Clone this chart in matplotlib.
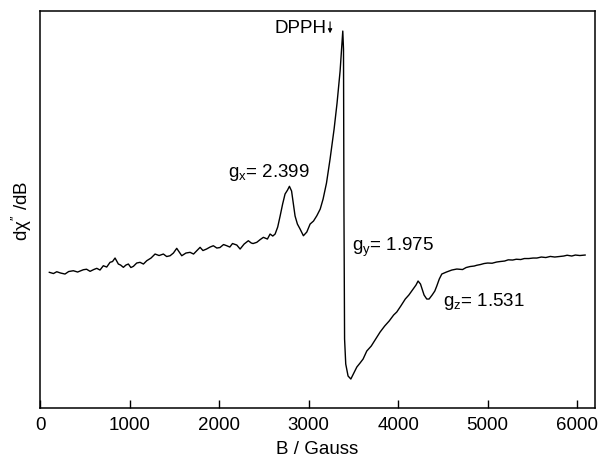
import matplotlib
matplotlib.use("Agg")
import matplotlib.pyplot as plt

plt.rcParams["font.family"] = ["Liberation Sans", "DejaVu Sans"]
plt.rcParams["mathtext.fontset"] = "custom"
plt.rcParams["mathtext.rm"] = "Liberation Sans"
plt.rcParams["mathtext.it"] = "Liberation Sans"

# EPR derivative spectrum (field in Gauss, signal in arbitrary units)
# rows of 10 in both lists line up
field_g = [
    104, 150, 187, 230, 279, 320, 372, 420, 484, 520,
    559, 600, 634, 670, 707, 745, 782, 810, 838, 875,
    900, 931, 960, 987, 1015, 1043, 1080, 1117, 1155, 1192,
    1240, 1285, 1330, 1378, 1415, 1453, 1490, 1527, 1583, 1630,
    1676, 1715, 1751, 1788, 1820, 1860, 1900, 1936, 1975, 2010,
    2050, 2086, 2120, 2150, 2198, 2235, 2280, 2327, 2360, 2380,
    2421, 2460, 2495, 2540, 2570, 2600, 2626, 2655, 2682, 2710,
    2737, 2765, 2786, 2810, 2830, 2849, 2875, 2905, 2942, 2980,
    3017, 3055, 3092, 3130, 3162, 3200, 3240, 3285, 3318, 3352,
    3382, 3390, 3395, 3402, 3415, 3441, 3472, 3505, 3539, 3575,
    3609, 3650, 3700, 3750, 3799, 3850, 3900, 3950, 3985, 4030,
    4080, 4120, 4168, 4200, 4223, 4250, 4290, 4320, 4346, 4380,
    4410, 4432, 4460, 4488, 4540, 4600, 4656, 4720, 4760, 4804,
    4850, 4880, 4920, 4960, 5000, 5050, 5100, 5140, 5190, 5230,
    5280, 5320, 5370, 5410, 5460, 5508, 5550, 5600, 5650, 5700,
    5750, 5800, 5850, 5888, 5940, 5980, 6030, 6089,
]
signal = [
    136.7, 135.5, 137.3, 136.0, 135.0, 137.5, 138.3, 137.0, 139.3, 139.8,
    137.7, 139.5, 140.7, 139.0, 143.3, 142.0, 146.7, 147.5, 151.0, 145.0,
    144.0, 141.7, 144.0, 145.0, 141.5, 142.7, 146.0, 146.7, 145.0, 148.3,
    151.0, 155.0, 153.5, 155.0, 152.5, 153.3, 156.0, 160.7, 153.3, 156.0,
    156.7, 155.0, 158.3, 161.7, 158.5, 160.0, 162.0, 163.3, 161.0, 161.5,
    164.5, 163.3, 162.0, 165.5, 164.0, 160.0, 165.0, 168.3, 166.0, 165.5,
    166.7, 169.5, 171.7, 170.0, 175.0, 173.0, 175.0, 182.0, 193.0, 205.0,
    215.0, 219.0, 222.7, 218.0, 205.0, 193.0, 185.0, 180.0, 173.3, 177.0,
    185.0, 188.0, 193.3, 200.0, 210.0, 226.0, 250.0, 280.0, 306.0, 338.0,
    378.0, 360.0, 200.0, 70.0, 45.0, 33.0, 30.0, 36.0, 42.0, 46.0,
    50.0, 58.0, 63.0, 70.0, 77.0, 83.0, 88.0, 94.0, 97.0, 103.0,
    110.0, 114.0, 120.0, 124.0, 128.0, 125.0, 114.0, 110.0, 110.0, 114.0,
    118.0, 123.0, 130.0, 135.0, 137.0, 139.0, 140.0, 139.5, 141.5, 142.5,
    143.0, 143.8, 144.5, 145.5, 146.0, 145.8, 147.0, 147.5, 148.0, 149.2,
    149.0, 149.8, 149.5, 150.5, 150.5, 151.0, 151.0, 152.0, 151.5, 152.6,
    152.0, 152.5, 153.0, 153.8, 153.0, 154.0, 153.5, 154.0,
]
x_ticks = [0, 1000, 2000, 3000, 4000, 5000, 6000]

fig = plt.figure(figsize=(6.01, 4.64), dpi=100)
ax = fig.add_axes([0.0666, 0.1185, 0.9235, 0.8555])

ax.plot(field_g, signal, color="black", linewidth=1.0)

ax.set_xlim(0, 6200)
ax.set_ylim(1, 398)
ax.set_xticks(x_ticks)
ax.set_yticks([])
ax.tick_params(axis="x", direction="in", length=6, width=1.0, labelsize=13.5, pad=6)
for sp in ax.spines.values():
    sp.set_linewidth(1.1)

ax.set_xlabel("B / Gauss", fontsize=13.5, labelpad=5)
ax.set_ylabel(r"dχ$^{\prime\prime}$ /dB", fontsize=13.5, labelpad=4)

# peak labels
fs = 13.5
ax.text(3196, 382, "DPPH", fontsize=fs, ha="right", va="center")
ax.annotate("", xy=(3240, 373), xytext=(3240, 390),
            arrowprops=dict(arrowstyle="-|>", color="black", lw=0.8,
                            mutation_scale=6))
ax.text(2101, 238, r"g$_\mathregular{x}$= 2.399", fontsize=fs, ha="left", va="center")
ax.text(3486, 163, r"g$_\mathregular{y}$= 1.975", fontsize=fs, ha="left", va="center")
ax.text(4503, 109, r"g$_\mathregular{z}$= 1.531", fontsize=fs, ha="left", va="center")

fig.savefig("out.png", dpi=100)
